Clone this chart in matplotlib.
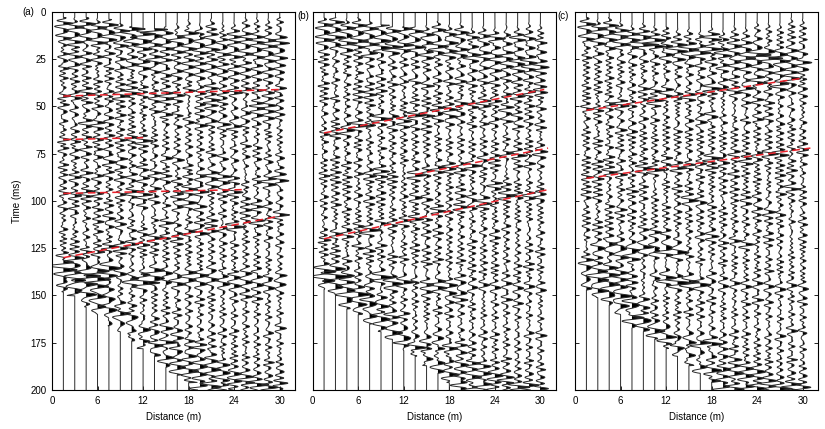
import numpy as np
import matplotlib
matplotlib.use('Agg')
import matplotlib.pyplot as plt

plt.rcParams['font.family'] = ['Liberation Sans', 'DejaVu Sans']
plt.rcParams['font.size'] = 7

#%%
# trace positions (m)
traceX = [1.5, 3, 4.5, 6, 7.5, 9, 10.5, 12, 13.5, 15, 16.5, 18, 19.5, 21, 22.5, 24, 25.5, 27, 28.5, 30]

# time where each trace starts wiggling (ms)
startA = [3, 3, 3, 3, 4, 6, 8, 9, 9, 8, 6, 4, 3, 3, 3, 3, 3, 3, 3, 3]
startB = [3, 3, 3, 3, 5, 7, 8, 8, 8, 7, 5, 3, 3, 3, 3, 3, 3, 3, 3, 3]
startC = [3, 3, 3, 4, 5, 6, 7, 8, 7, 6, 4, 3, 3, 3, 3, 3, 3, 3, 3, 3]

# time where each trace goes flat (bottom mute, ms)
endA = [148, 150, 156, 160, 166, 169, 174, 178, 182, 188, 192, 196, 200, 200, 200, 200, 200, 200, 200, 200]
endB = [147, 150, 157, 160, 165, 169, 173, 179, 182, 187, 191, 196, 200, 200, 200, 200, 200, 200, 200, 200]
endC = [147, 151, 155, 160, 167, 169, 173, 178, 182, 187, 191, 196, 200, 200, 200, 200, 200, 200, 200, 200]

# trace-to-trace time jitter (ms), estimated from how badly events line up
staticsA = [0.0, 1.4, -0.9, 0.6, -1.5, 1.1, -0.4, 1.7, -1.2, 0.3, 1.5, -0.8, 0.9, -1.6, 0.5, 1.2, -1.0, 0.2, 1.6, -0.6]
staticsB = [0.8, -1.1, 1.5, -0.3, 0.9, -1.6, 1.2, -0.5, 0.4, 1.7, -1.3, 0.6, -0.9, 1.4, -0.2, 1.0, -1.5, 0.7, -0.4, 1.3]
staticsC = [-0.6, 1.2, -1.4, 0.5, 1.6, -0.7, 0.2, -1.3, 1.1, -0.2, 0.8, -1.7, 1.4, -0.5, 1.0, -1.1, 0.3, 1.5, -0.9, 0.6]

# events seen on the sections: x_from, t_from, x_to, t_to, amplitude, period (ms)
eventsA = [
    (1.5, 6, 30, 17, 1.2, 3), (1.5, 10, 30, 21, 1.0, 4), (1.5, 14, 30, 25, 1.0, 3),
    (1.5, 18, 16, 12, 0.7, 3), (10, 9, 30, 14, 0.8, 4), (1.5, 22, 30, 29, 0.8, 3),
    (1.5, 26, 30, 33, 0.7, 4), (1.5, 30, 18, 27, 0.6, 3), (1.5, 35, 15, 39, 0.9, 3),
    (12, 33, 30, 36, 0.6, 4), (1.5, 20, 30, 6, 0.6, 3),
    (1.5, 44.5, 30, 41, 1.1, 3), (1.5, 49, 30, 48, 0.7, 3), (1.5, 53, 30, 55, 0.7, 4),
    (1.5, 58, 30, 60, 0.6, 3), (1.5, 62, 30, 58, 0.6, 4), (1.5, 67.5, 12, 66.5, 1.1, 3),
    (12, 66.5, 30, 64, 0.6, 3), (1.5, 72, 30, 72, 0.6, 3), (1.5, 76, 30, 78, 0.8, 4),
    (1.5, 81, 30, 83, 0.6, 3), (1.5, 86, 30, 87, 0.8, 3), (1.5, 90, 30, 90, 0.6, 4),
    (1.5, 96, 25, 94, 1.1, 3), (1.5, 101, 30, 103, 0.6, 3), (1.5, 105, 30, 99, 0.6, 4),
    (1.5, 110, 30, 113, 0.7, 3), (1.5, 115, 30, 118, 0.6, 4), (1.5, 120, 30, 123, 0.6, 3),
    (1.5, 125, 30, 130, 0.6, 3), (1.5, 130, 30, 108, 1.1, 3),
    (1.5, 40, 30, 52, 0.6, 3.5), (1.5, 60, 30, 47, 0.6, 3), (1.5, 78, 30, 90, 0.5, 3.5),
    (1.5, 100, 30, 86, 0.5, 3), (1.5, 108, 30, 122, 0.5, 3.5), (1.5, 118, 30, 104, 0.5, 3),
    (1.5, 84, 30, 70, 0.5, 3.5), (15, 100, 30, 108, 0.6, 3.5),
    (1.5, 47, 30, 63, 0.4, 2.2), (1.5, 70, 30, 95, 0.4, 2.2), (1.5, 104, 30, 92, 0.4, 2.2),
    (1.5, 122, 30, 140, 0.4, 2.2), (1.5, 28, 30, 45, 0.4, 2.2), (1.5, 165, 30, 185, 0.4, 2.2),
    (1.5, 136, 30, 140, 0.8, 4), (1.5, 140, 30, 145, 1.1, 4), (1.5, 132, 16, 145, 1.0, 5),
    (1.5, 142, 21, 200, 1.1, 5), (1.5, 137, 26, 205, 0.9, 5), (4.5, 141, 30, 205, 0.8, 4),
    (1.5, 150, 30, 152, 0.6, 3), (1.5, 158, 30, 160, 0.6, 3), (1.5, 166, 30, 168, 0.6, 4),
    (1.5, 174, 30, 176, 0.6, 3), (1.5, 182, 30, 184, 0.6, 3), (1.5, 190, 30, 191, 0.7, 4),
    (1.5, 146, 30, 134, 0.5, 3), (1.5, 162, 30, 150, 0.5, 3.5), (1.5, 180, 30, 168, 0.5, 3),
    (18, 197, 30, 197, 1.4, 3),
]

eventsB = [
    (1.5, 6, 30, 15, 1.1, 3), (1.5, 10, 30, 20, 1.1, 4), (1.5, 14, 30, 25, 1.0, 3),
    (1.5, 18, 30, 28, 0.8, 4), (1.5, 22, 16, 20, 0.7, 3), (1.5, 27, 30, 31, 0.7, 3),
    (1.5, 32, 30, 35, 0.6, 4), (1.5, 37, 30, 38, 0.7, 3), (1.5, 42, 20, 45, 0.6, 3),
    (1.5, 24, 30, 10, 0.6, 3),
    (1.5, 64, 30.5, 41, 1.1, 3), (1.5, 48, 30, 50, 0.6, 3), (1.5, 53, 30, 56, 0.7, 4),
    (1.5, 58, 30, 60, 0.6, 3), (1.5, 68, 30, 69, 0.7, 3), (1.5, 73, 30, 76, 0.6, 4),
    (1.5, 78, 30, 81, 0.6, 3), (1.5, 86, 13.5, 86, 1.0, 3), (13.5, 86, 31, 72, 1.1, 3),
    (1.5, 91, 30, 93, 0.6, 3), (1.5, 97, 30, 99, 0.7, 4), (1.5, 103, 30, 105, 0.6, 3),
    (1.5, 108, 30, 110, 0.6, 3), (1.5, 114, 30, 115, 0.6, 4), (1.5, 120, 31, 94, 1.1, 3),
    (1.5, 125, 30, 127, 0.6, 3), (1.5, 130, 30, 134, 0.7, 3),
    (1.5, 40, 30, 54, 0.6, 3), (1.5, 62, 30, 50, 0.5, 3.5), (1.5, 80, 30, 92, 0.5, 3),
    (1.5, 104, 30, 90, 0.5, 3.5), (1.5, 112, 30, 124, 0.5, 3), (1.5, 92, 30, 80, 0.5, 3),
    (1.5, 128, 30, 116, 0.5, 3.5), (1.5, 60, 16, 62, 0.6, 3.5),
    (1.5, 45, 30, 62, 0.4, 2.2), (1.5, 66, 30, 96, 0.4, 2.2), (1.5, 122, 30, 142, 0.4, 2.2),
    (1.5, 30, 30, 46, 0.4, 2.2), (1.5, 170, 30, 188, 0.4, 2.2),
    (1.5, 136, 20, 150, 1.1, 4), (1.5, 141, 30, 146, 1.0, 4), (1.5, 142, 21, 200, 1.1, 5),
    (1.5, 137, 26, 206, 0.9, 5), (6, 150, 30, 205, 0.8, 4),
    (1.5, 152, 30, 154, 0.6, 3), (1.5, 160, 30, 161, 0.6, 3), (1.5, 168, 30, 170, 0.6, 4),
    (1.5, 176, 30, 178, 0.6, 3), (1.5, 184, 30, 185, 0.6, 3), (1.5, 191, 30, 192, 0.7, 4),
    (1.5, 148, 30, 136, 0.5, 3), (1.5, 164, 30, 152, 0.5, 3.5), (1.5, 182, 30, 170, 0.5, 3),
    (18, 197, 30, 198, 1.4, 3),
]

eventsC = [
    (1.5, 7, 18, 16, 1.2, 3), (1.5, 11, 30, 22, 1.0, 4), (1.5, 15, 30, 26, 1.0, 3),
    (9, 18, 30, 14, 0.7, 3), (1.5, 20, 30, 30, 0.8, 4), (1.5, 25, 30, 33, 0.7, 3),
    (12, 24, 30, 24, 0.8, 3), (1.5, 30, 30, 37, 0.7, 3), (1.5, 36, 30, 40, 0.6, 4),
    (1.5, 41, 30, 44, 0.6, 3), (1.5, 22, 30, 8, 0.6, 3),
    (1.5, 52, 30, 35, 1.1, 3), (1.5, 46, 30, 48, 0.6, 3), (1.5, 57, 30, 58, 0.7, 4),
    (1.5, 62, 30, 63, 0.6, 3), (1.5, 67, 30, 69, 0.7, 3), (1.5, 73, 30, 75, 0.6, 4),
    (1.5, 78, 30, 80, 0.8, 3), (1.5, 83, 30, 85, 0.6, 3), (1.5, 88, 31, 72, 1.1, 3),
    (1.5, 93, 30, 95, 0.7, 3), (1.5, 99, 30, 101, 0.6, 4), (1.5, 104, 30, 106, 0.6, 3),
    (1.5, 110, 30, 112, 0.7, 3), (1.5, 116, 30, 117, 0.6, 4), (3, 124, 13.5, 126, 1.2, 5),
    (1.5, 129, 30, 131, 0.6, 3),
    (1.5, 38, 30, 50, 0.6, 3), (1.5, 64, 30, 52, 0.5, 3.5), (1.5, 80, 30, 92, 0.5, 3),
    (1.5, 106, 30, 94, 0.5, 3.5), (1.5, 112, 30, 126, 0.5, 3), (1.5, 96, 30, 84, 0.5, 3),
    (1.5, 132, 30, 118, 0.5, 3.5), (15, 100, 30, 108, 0.6, 3.5), (15, 120, 30, 124, 0.6, 3),
    (1.5, 44, 30, 62, 0.4, 2.2), (1.5, 68, 30, 96, 0.4, 2.2), (1.5, 120, 30, 140, 0.4, 2.2),
    (1.5, 166, 30, 186, 0.4, 2.2),
    (1.5, 135, 18, 145, 1.1, 4), (1.5, 140, 30, 146, 1.0, 4), (1.5, 142, 21, 200, 1.1, 5),
    (1.5, 137, 26, 206, 0.9, 5), (6, 150, 30, 205, 0.8, 4),
    (1.5, 152, 30, 154, 0.6, 3), (1.5, 160, 30, 161, 0.6, 3), (1.5, 168, 30, 170, 0.6, 4),
    (1.5, 176, 30, 178, 0.6, 3), (1.5, 184, 30, 185, 0.6, 3), (1.5, 191, 30, 192, 0.7, 4),
    (1.5, 147, 30, 135, 0.5, 3), (1.5, 163, 30, 151, 0.5, 3.5), (1.5, 181, 30, 169, 0.5, 3),
    (18, 197, 30, 198, 1.4, 3),
]

# red dashed picks: x0, t0, x1, t1
picksA = [(1.5, 44.5, 30, 41), (1.5, 67.5, 12, 66.5), (1.5, 96, 25, 94), (1.5, 130, 30, 108)]
picksB = [(1.5, 64, 30.5, 41), (13.5, 86, 31, 72), (1.5, 120, 31, 94)]
picksC = [(1.5, 52, 30, 35), (1.5, 88, 31, 72)]

xticks = [0, 6, 12, 18, 24, 30]
yticks = [0, 25, 50, 75, 100, 125, 150, 175, 200]

#%%
def buildTrace(x, t, events, shift, t0, t1):
    s = np.zeros_like(t)
    for xa, ta, xb, tb, amp, per in events:
        if x < xa - 0.01 or x > xb + 0.01:
            continue
        tc = ta + (tb - ta) * (x - xa) / (xb - xa) + shift
        tau = t - tc
        s += amp * np.exp(-(tau / per) ** 2) * np.cos(2 * np.pi * tau / per)
    s[(t < t0) | (t > t1)] = 0
    return s


def wigglePanel(ax, events, statics, starts, ends, picks):
    t = np.arange(0, 200.01, 0.2)
    scale = 0.8
    for x, sh, t0, t1 in zip(traceX, statics, starts, ends):
        s = buildTrace(x, t, events, sh, t0, t1) * scale
        s = np.clip(s, -2.6, 2.6)
        ax.fill_betweenx(t, x, x + s, where=s > 0, color='k', lw=0, interpolate=True)
        ax.plot(x + s, t, color='#2a2a2a', lw=0.7)
    for x0, t0, x1, t1 in picks:
        ax.plot([x0, x1], [t0, t1], color='#e8202a', lw=1.1, ls=(0, (5, 3)))

    ax.set_xlim(0, 32)
    ax.set_ylim(200, 0)
    ax.set_xticks(xticks)
    ax.set_yticks(yticks)
    ax.tick_params(direction='in', right=True, top=False, length=3, width=0.6, pad=4)
    for sp in ax.spines.values():
        sp.set_linewidth(0.8)
    ax.set_xlabel('Distance (m)', labelpad=5)


#%%
fig = plt.figure(figsize=(8.25, 4.29), dpi=100)
axA = fig.add_axes([0.063, 0.091, 0.2945, 0.881])
axB = fig.add_axes([0.379, 0.091, 0.2945, 0.881])
axC = fig.add_axes([0.697, 0.091, 0.2945, 0.881])

wigglePanel(axA, eventsA, staticsA, startA, endA, picksA)
wigglePanel(axB, eventsB, staticsB, startB, endB, picksB)
wigglePanel(axC, eventsC, staticsC, startC, endC, picksC)

axA.set_ylabel('Time (ms)', labelpad=6)
axB.set_yticklabels([])
axC.set_yticklabels([])

fig.text(0.027, 0.972, '(a)', va='center', ha='left')
fig.text(0.360, 0.962, '(b)', va='center', ha='left')
fig.text(0.676, 0.962, '(c)', va='center', ha='left')

fig.savefig('out.png', dpi=100)
